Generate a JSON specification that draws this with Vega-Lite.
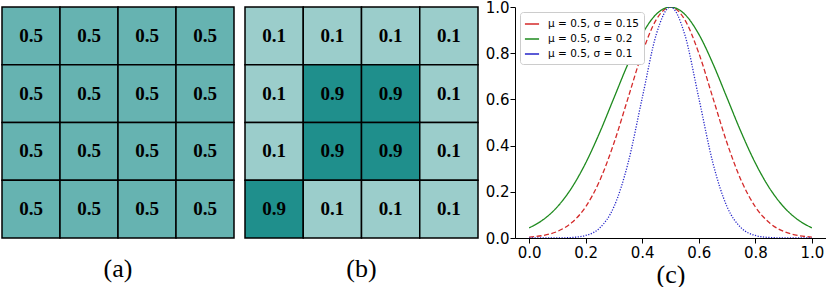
{
  "$schema": "https://vega.github.io/schema/vega-lite/v6.json",
  "padding": {"left": 1, "top": 0, "right": 0, "bottom": 0},
  "background": "white",
  "config": {"view": {"stroke": null}},
  "datasets": {
    "gridA": [
      {"row": 0, "col": 0, "v": 0.5}, {"row": 0, "col": 1, "v": 0.5}, {"row": 0, "col": 2, "v": 0.5}, {"row": 0, "col": 3, "v": 0.5},
      {"row": 1, "col": 0, "v": 0.5}, {"row": 1, "col": 1, "v": 0.5}, {"row": 1, "col": 2, "v": 0.5}, {"row": 1, "col": 3, "v": 0.5},
      {"row": 2, "col": 0, "v": 0.5}, {"row": 2, "col": 1, "v": 0.5}, {"row": 2, "col": 2, "v": 0.5}, {"row": 2, "col": 3, "v": 0.5},
      {"row": 3, "col": 0, "v": 0.5}, {"row": 3, "col": 1, "v": 0.5}, {"row": 3, "col": 2, "v": 0.5}, {"row": 3, "col": 3, "v": 0.5}
    ],
    "gridB": [
      {"row": 0, "col": 0, "v": 0.1}, {"row": 0, "col": 1, "v": 0.1}, {"row": 0, "col": 2, "v": 0.1}, {"row": 0, "col": 3, "v": 0.1},
      {"row": 1, "col": 0, "v": 0.1}, {"row": 1, "col": 1, "v": 0.9}, {"row": 1, "col": 2, "v": 0.9}, {"row": 1, "col": 3, "v": 0.1},
      {"row": 2, "col": 0, "v": 0.1}, {"row": 2, "col": 1, "v": 0.9}, {"row": 2, "col": 2, "v": 0.9}, {"row": 2, "col": 3, "v": 0.1},
      {"row": 3, "col": 0, "v": 0.9}, {"row": 3, "col": 1, "v": 0.1}, {"row": 3, "col": 2, "v": 0.1}, {"row": 3, "col": 3, "v": 0.1}
    ],
    "curves": [
      {"s": "μ = 0.5, σ = 0.15", "x": 0.0, "y": 0.0039}, {"s": "μ = 0.5, σ = 0.15", "x": 0.05, "y": 0.0111}, {"s": "μ = 0.5, σ = 0.15", "x": 0.1, "y": 0.0286}, {"s": "μ = 0.5, σ = 0.15", "x": 0.15, "y": 0.0657}, {"s": "μ = 0.5, σ = 0.15", "x": 0.2, "y": 0.1353}, {"s": "μ = 0.5, σ = 0.15", "x": 0.25, "y": 0.2494}, {"s": "μ = 0.5, σ = 0.15", "x": 0.3, "y": 0.4111}, {"s": "μ = 0.5, σ = 0.15", "x": 0.35, "y": 0.6065}, {"s": "μ = 0.5, σ = 0.15", "x": 0.4, "y": 0.8007}, {"s": "μ = 0.5, σ = 0.15", "x": 0.45, "y": 0.946}, {"s": "μ = 0.5, σ = 0.15", "x": 0.5, "y": 1.0}, {"s": "μ = 0.5, σ = 0.15", "x": 0.55, "y": 0.946}, {"s": "μ = 0.5, σ = 0.15", "x": 0.6, "y": 0.8007}, {"s": "μ = 0.5, σ = 0.15", "x": 0.65, "y": 0.6065}, {"s": "μ = 0.5, σ = 0.15", "x": 0.7, "y": 0.4111}, {"s": "μ = 0.5, σ = 0.15", "x": 0.75, "y": 0.2494}, {"s": "μ = 0.5, σ = 0.15", "x": 0.8, "y": 0.1353}, {"s": "μ = 0.5, σ = 0.15", "x": 0.85, "y": 0.0657}, {"s": "μ = 0.5, σ = 0.15", "x": 0.9, "y": 0.0286}, {"s": "μ = 0.5, σ = 0.15", "x": 0.95, "y": 0.0111}, {"s": "μ = 0.5, σ = 0.15", "x": 1.0, "y": 0.0039},
      {"s": "μ = 0.5, σ = 0.2", "x": 0.0, "y": 0.0439}, {"s": "μ = 0.5, σ = 0.2", "x": 0.05, "y": 0.0796}, {"s": "μ = 0.5, σ = 0.2", "x": 0.1, "y": 0.1353}, {"s": "μ = 0.5, σ = 0.2", "x": 0.15, "y": 0.2163}, {"s": "μ = 0.5, σ = 0.2", "x": 0.2, "y": 0.3247}, {"s": "μ = 0.5, σ = 0.2", "x": 0.25, "y": 0.4578}, {"s": "μ = 0.5, σ = 0.2", "x": 0.3, "y": 0.6065}, {"s": "μ = 0.5, σ = 0.2", "x": 0.35, "y": 0.7548}, {"s": "μ = 0.5, σ = 0.2", "x": 0.4, "y": 0.8825}, {"s": "μ = 0.5, σ = 0.2", "x": 0.45, "y": 0.9692}, {"s": "μ = 0.5, σ = 0.2", "x": 0.5, "y": 1.0}, {"s": "μ = 0.5, σ = 0.2", "x": 0.55, "y": 0.9692}, {"s": "μ = 0.5, σ = 0.2", "x": 0.6, "y": 0.8825}, {"s": "μ = 0.5, σ = 0.2", "x": 0.65, "y": 0.7548}, {"s": "μ = 0.5, σ = 0.2", "x": 0.7, "y": 0.6065}, {"s": "μ = 0.5, σ = 0.2", "x": 0.75, "y": 0.4578}, {"s": "μ = 0.5, σ = 0.2", "x": 0.8, "y": 0.3247}, {"s": "μ = 0.5, σ = 0.2", "x": 0.85, "y": 0.2163}, {"s": "μ = 0.5, σ = 0.2", "x": 0.9, "y": 0.1353}, {"s": "μ = 0.5, σ = 0.2", "x": 0.95, "y": 0.0796}, {"s": "μ = 0.5, σ = 0.2", "x": 1.0, "y": 0.0439},
      {"s": "μ = 0.5, σ = 0.1", "x": 0.0, "y": 0.0}, {"s": "μ = 0.5, σ = 0.1", "x": 0.05, "y": 0.00004}, {"s": "μ = 0.5, σ = 0.1", "x": 0.1, "y": 0.0003}, {"s": "μ = 0.5, σ = 0.1", "x": 0.15, "y": 0.0022}, {"s": "μ = 0.5, σ = 0.1", "x": 0.2, "y": 0.0111}, {"s": "μ = 0.5, σ = 0.1", "x": 0.25, "y": 0.0439}, {"s": "μ = 0.5, σ = 0.1", "x": 0.3, "y": 0.1353}, {"s": "μ = 0.5, σ = 0.1", "x": 0.35, "y": 0.3247}, {"s": "μ = 0.5, σ = 0.1", "x": 0.4, "y": 0.6065}, {"s": "μ = 0.5, σ = 0.1", "x": 0.45, "y": 0.8825}, {"s": "μ = 0.5, σ = 0.1", "x": 0.5, "y": 1.0}, {"s": "μ = 0.5, σ = 0.1", "x": 0.55, "y": 0.8825}, {"s": "μ = 0.5, σ = 0.1", "x": 0.6, "y": 0.6065}, {"s": "μ = 0.5, σ = 0.1", "x": 0.65, "y": 0.3247}, {"s": "μ = 0.5, σ = 0.1", "x": 0.7, "y": 0.1353}, {"s": "μ = 0.5, σ = 0.1", "x": 0.75, "y": 0.0439}, {"s": "μ = 0.5, σ = 0.1", "x": 0.8, "y": 0.0111}, {"s": "μ = 0.5, σ = 0.1", "x": 0.85, "y": 0.0022}, {"s": "μ = 0.5, σ = 0.1", "x": 0.9, "y": 0.0003}, {"s": "μ = 0.5, σ = 0.1", "x": 0.95, "y": 0.00004}, {"s": "μ = 0.5, σ = 0.1", "x": 1.0, "y": 0.0}
    ]
  },
  "hconcat": [
    {
      "hconcat": [
        {
          "width": 232, "height": 231,
          "title": {"text": "(a)", "orient": "bottom", "font": "Liberation Serif", "fontSize": 26, "fontWeight": "normal", "color": "black", "offset": 17},
          "data": {"name": "gridA"},
          "encoding": {
            "x": {"field": "col", "type": "ordinal", "scale": {"paddingInner": 0, "paddingOuter": 0},
                  "axis": {"orient": "top", "title": null, "labels": false, "ticks": false, "domain": true, "domainColor": "white", "offset": 7}},
            "y": {"field": "row", "type": "ordinal", "scale": {"paddingInner": 0, "paddingOuter": 0}, "axis": null}
          },
          "layer": [
            {"mark": {"type": "rect", "stroke": "black", "strokeWidth": 1.5},
             "encoding": {"color": {"field": "v", "type": "quantitative", "scale": {"domain": [0.1, 0.5, 0.9], "range": ["#9BCDCB", "#66B3B1", "#1F8F8C"]}, "legend": null}}},
            {"mark": {"type": "text", "font": "Liberation Serif", "fontWeight": "bold", "fontSize": 19, "color": "black"},
             "encoding": {"text": {"field": "v", "type": "quantitative", "format": ".1f"}}}
          ]
        },
        {
          "width": 233, "height": 231,
          "title": {"text": "(b)", "orient": "bottom", "font": "Liberation Serif", "fontSize": 26, "fontWeight": "normal", "color": "black", "offset": 17},
          "data": {"name": "gridB"},
          "encoding": {
            "x": {"field": "col", "type": "ordinal", "scale": {"paddingInner": 0, "paddingOuter": 0},
                  "axis": {"orient": "top", "title": null, "labels": false, "ticks": false, "domain": true, "domainColor": "white", "offset": 7}},
            "y": {"field": "row", "type": "ordinal", "scale": {"paddingInner": 0, "paddingOuter": 0}, "axis": null}
          },
          "layer": [
            {"mark": {"type": "rect", "stroke": "black", "strokeWidth": 1.5},
             "encoding": {"color": {"field": "v", "type": "quantitative", "scale": {"domain": [0.1, 0.5, 0.9], "range": ["#9BCDCB", "#66B3B1", "#1F8F8C"]}, "legend": null}}},
            {"mark": {"type": "text", "font": "Liberation Serif", "fontWeight": "bold", "fontSize": 19, "color": "black"},
             "encoding": {"text": {"field": "v", "type": "quantitative", "format": ".1f"}}}
          ]
        }
      ],
      "spacing": 9
    },
    {
      "width": 311, "height": 231,
      "data": {"name": "curves"},
      "mark": {"type": "line", "interpolate": "monotone", "strokeWidth": 1.3, "clip": true},
      "encoding": {
        "x": {"field": "x", "type": "quantitative", "scale": {"domain": [-0.05, 1.05], "nice": false, "zero": false},
              "axis": {"values": [0, 0.2, 0.4, 0.6, 0.8, 1.0], "format": ".1f", "grid": false, "domainColor": "black", "tickColor": "black", "labelFont": "DejaVu Sans", "labelFontSize": 15, "labelColor": "black", "tickSize": 5, "labelPadding": 2,
                       "title": "(c)", "titleFont": "Liberation Serif", "titleFontSize": 26, "titleFontWeight": "normal", "titleColor": "black", "titlePadding": 1}},
        "y": {"field": "y", "type": "quantitative", "scale": {"domain": [0, 1], "nice": false},
              "axis": {"values": [0, 0.2, 0.4, 0.6, 0.8, 1.0], "format": ".1f", "grid": false, "domainColor": "black", "tickColor": "black", "labelFont": "DejaVu Sans", "labelFontSize": 15, "labelColor": "black", "tickSize": 5, "labelPadding": 1, "minExtent": 0, "title": null}},
        "color": {"field": "s", "type": "nominal",
                  "scale": {"domain": ["μ = 0.5, σ = 0.15", "μ = 0.5, σ = 0.2", "μ = 0.5, σ = 0.1"], "range": ["#D42A2A", "#1E8A1E", "#2424C8"]},
                  "legend": {"title": null, "orient": "none", "legendX": 5, "legendY": 5, "direction": "vertical", "symbolType": "stroke", "symbolSize": 200, "symbolStrokeWidth": 1.5, "labelFont": "DejaVu Sans", "labelFontSize": 10.5, "labelColor": "black", "labelOffset": 8, "rowPadding": 1, "padding": 4, "strokeColor": "#CCCCCC", "fillColor": "white", "cornerRadius": 3}},
        "strokeDash": {"field": "s", "type": "nominal",
                  "scale": {"domain": ["μ = 0.5, σ = 0.15", "μ = 0.5, σ = 0.2", "μ = 0.5, σ = 0.1"], "range": [[5, 2.5], [1, 0], [1.2, 1.5]]},
                  "legend": null}
      }
    }
  ],
  "spacing": 6
}
